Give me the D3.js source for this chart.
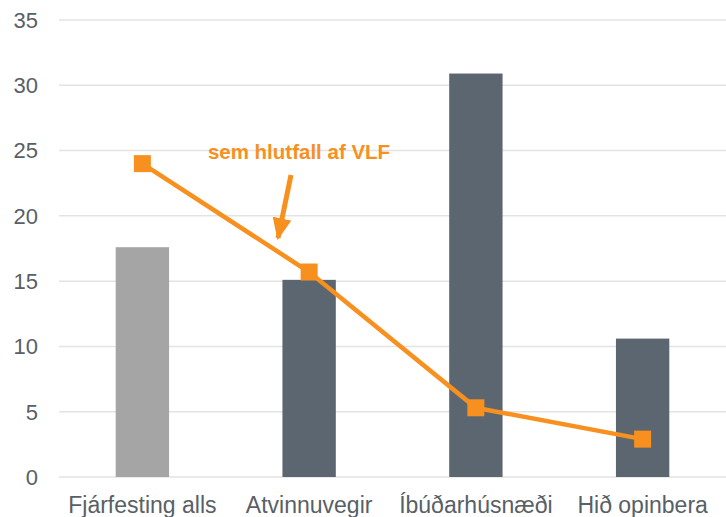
<!DOCTYPE html>
<html>
<head>
<meta charset="utf-8">
<script src="https://cdn.jsdelivr.net/npm/d3@7"></script>
<style>
  body { margin: 0; background: white; }
  text { font-family: "Liberation Sans", Arial, sans-serif; }
</style>
</head>
<body>
<div id="chart"></div>
<script>
const width = 726;
const height = 517;

const categories = ["Fjárfesting alls", "Atvinnuvegir", "Íbúðarhúsnæði", "Hið opinbera"];
const barValues = [17.6, 15.1, 30.9, 10.6];
const lineValues = [24.0, 15.7, 5.3, 2.9];
const yTicks = [0, 5, 10, 15, 20, 25, 30, 35];
const annotation = "sem hlutfall af VLF";

const margin = { top: 20, right: 0, bottom: 40, left: 59 };

let xScale = d3.scaleBand()
  .domain(categories)
  .range([margin.left, width - margin.right])
  .paddingInner(0.68)
  .paddingOuter(0.34);

let yScale = d3.scaleLinear()
  .domain([0, 35])
  .range([height - margin.bottom, margin.top]);

let svg = d3.select("#chart")
  .append("svg")
  .attr("width", width)
  .attr("height", height)
  .attr("viewBox", [0, 0, width, height]);

// gridlines
svg.append("g")
  .selectAll("line")
  .data(yTicks)
  .join("line")
    .attr("x1", margin.left)
    .attr("x2", width)
    .attr("y1", d => yScale(d))
    .attr("y2", d => yScale(d))
    .attr("stroke", "#e3e3e3")
    .attr("stroke-width", 1.5);

// y tick labels
svg.append("g")
  .selectAll("text")
  .data(yTicks)
  .join("text")
    .attr("x", 38)
    .attr("y", d => yScale(d))
    .attr("dy", "0.36em")
    .attr("text-anchor", "end")
    .attr("font-size", 22)
    .attr("fill", "#595f66")
    .text(d => d);

// bars
svg.append("g")
  .selectAll("rect")
  .data(barValues)
  .join("rect")
    .attr("x", (d, i) => xScale(categories[i]))
    .attr("width", xScale.bandwidth())
    .attr("y", d => yScale(d))
    .attr("height", d => yScale(0) - yScale(d))
    .attr("fill", (d, i) => i === 0 ? "#a5a5a5" : "#5b6670");

// category labels
svg.append("g")
  .selectAll("text")
  .data(categories)
  .join("text")
    .attr("x", d => xScale(d) + xScale.bandwidth() / 2)
    .attr("y", 513)
    .attr("text-anchor", "middle")
    .attr("font-size", 23)
    .attr("fill", "#595f66")
    .text(d => d);

// line
const cx = (d, i) => xScale(categories[i]) + xScale.bandwidth() / 2;
let line = d3.line()
  .x(cx)
  .y(d => yScale(d));

svg.append("path")
  .datum(lineValues)
  .attr("d", line)
  .attr("fill", "none")
  .attr("stroke", "#f7901e")
  .attr("stroke-width", 4.5);

svg.append("g")
  .selectAll("rect")
  .data(lineValues)
  .join("rect")
    .attr("x", (d, i) => cx(d, i) - 8.5)
    .attr("y", d => yScale(d) - 8.5)
    .attr("width", 17)
    .attr("height", 17)
    .attr("fill", "#f7901e");

// annotation
svg.append("text")
  .attr("x", 299)
  .attr("y", 159)
  .attr("text-anchor", "middle")
  .attr("font-size", 20.5)
  .attr("font-weight", "bold")
  .attr("fill", "#f7901e")
  .text(annotation);

svg.append("defs")
  .append("marker")
    .attr("id", "arrow")
    .attr("viewBox", [0, 0, 10, 10])
    .attr("refX", 9)
    .attr("refY", 5)
    .attr("markerWidth", 4.4)
    .attr("markerHeight", 3.8)
    .attr("orient", "auto")
    .attr("preserveAspectRatio", "none")
  .append("path")
    .attr("d", "M0,0L10,5L0,10Z")
    .attr("fill", "#f7901e");

svg.append("line")
  .attr("x1", 291)
  .attr("y1", 175)
  .attr("x2", 278)
  .attr("y2", 238)
  .attr("stroke", "#f7901e")
  .attr("stroke-width", 5)
  .attr("marker-end", "url(#arrow)");
</script>
</body>
</html>
